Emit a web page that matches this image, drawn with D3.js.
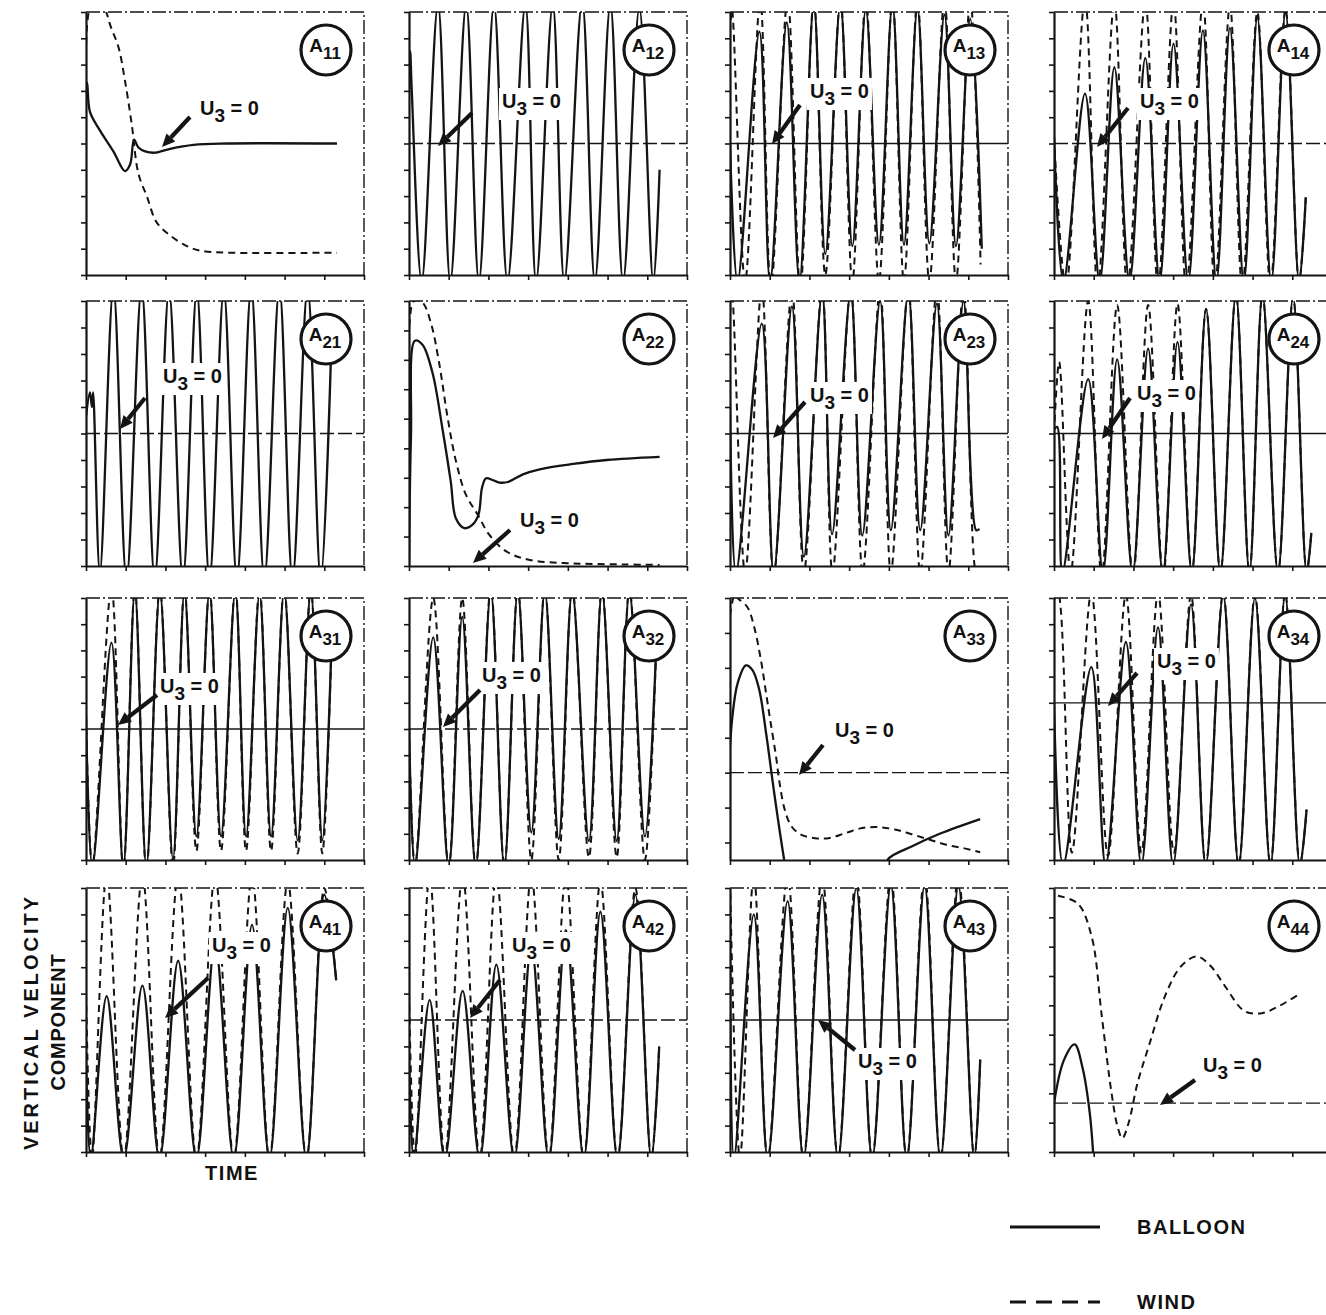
<!DOCTYPE html>
<html><head><meta charset="utf-8">
<script src="https://cdn.jsdelivr.net/npm/d3@7"></script>
<style>body{margin:0;background:#fff}svg{display:block}text{font-family:"Liberation Sans",Arial,sans-serif;font-weight:bold;fill:#111}</style>
</head><body>
<svg id="c" width="1326" height="1315"></svg>
<script>
// ---------------- DATA ----------------
const panelNames = ["A11","A12","A13","A14","A21","A22","A23","A24","A31","A32","A33","A34","A41","A42","A43","A44"];
const xTicks = [0,1,2,3,4,5,6,7];
const yTicksSym = [-1,-0.8,-0.6,-0.4,-0.2,0,0.2,0.4,0.6,0.8,1];
const yTicksA22 = [0,0.111,0.222,0.333,0.444,0.556,0.667,0.778,0.889,1];
const yTicksA33 = [-0.4,-0.2,0,0.2,0.4,0.6,0.8,1];
const yTicksA34 = [-1.5,-1.25,-1,-0.75,-0.5,-0.25,0,0.25,0.5,0.75,1];
const yTicksA44 = [-0.25,-0.1,0.05,0.2,0.35,0.5,0.65,0.8,0.95,1.1];
const legendLabels = ["BALLOON","WIND"];
const axisLabelY = ["VERTICAL VELOCITY","COMPONENT"];
const axisLabelX = "TIME";

// [time, vertical velocity] — balloon (solid) and wind (dashed)
const balloon_A11 = [[0,0.35],[0.03,0.46],[0.1,0.24],[0.35,0.10],[0.69,-0.06],[0.98,-0.21],[1.11,-0.16],[1.21,0.03],[1.32,-0.03],[1.49,-0.06],[1.74,-0.07],[2.12,-0.04],[2.71,-0.01],[3.55,0],[6.32,0]];
const wind_A11 = [[0,0.3],[0.12,1.05],[0.31,1.08],[0.48,1.02],[0.61,0.9],[0.82,0.73],[0.98,0.48],[1.15,0.15],[1.32,-0.23],[1.53,-0.4],[1.78,-0.6],[2.12,-0.7],[2.54,-0.78],[2.88,-0.815],[3.55,-0.83],[6.32,-0.83]];

const balloon_A12 = [[0,0.38],[0.03,0.7],[0.07,0.4],[0.32,-1.05],[0.73,1.06],[1.04,-1.05],[1.44,1.06],[1.76,-1.05],[2.14,1.06],[2.48,-1.05],[2.93,1.06],[3.2,-1.05],[3.62,1.06],[3.91,-1.05],[4.36,1.08],[4.68,-1.05],[5.07,1.06],[5.39,-1.05],[5.8,1.03],[6.15,-1.05],[6.31,-0.2]];
const wind_A12 = [];

const balloon_A13 = [[0,0],[0.19,-1.05],[0.74,0.85],[1.01,-1.05],[1.43,0.92],[1.75,-1.05],[2.11,1.06],[2.40,-0.84],[2.78,1.06],[3.08,-0.78],[3.42,1.02],[3.75,-0.77],[4.09,1.06],[4.38,-0.77],[4.72,1.03],[5.02,-0.76],[5.40,0.98],[5.69,-0.78],[6.05,0.95],[6.34,-0.8]];
const wind_A13 = [[0,0.85],[0.05,1.02],[0.38,-1.05],[0.76,1.1],[1.03,-1.1],[1.45,1.1],[1.77,-1.1],[2.11,1.1],[2.40,-1.0],[2.78,1.1],[3.08,-1.05],[3.42,1.1],[3.75,-1.05],[4.09,1.1],[4.38,-1.05],[4.72,1.1],[5.02,-1.05],[5.40,1.1],[5.69,-1.05],[6.05,1.1],[6.31,-0.92]];

const balloon_A14 = [[0,0.05],[0.24,-1.05],[0.78,0.38],[1.15,-1.05],[1.52,0.58],[1.9,-1.05],[2.30,0.65],[2.66,-1.05],[3.01,0.76],[3.38,-1.05],[3.75,0.86],[4.09,-1.05],[4.43,0.88],[4.78,-1.05],[5.12,0.96],[5.47,-1.05],[5.83,1.0],[6.17,-1.05],[6.34,-0.41]];
const wind_A14 = [[0,0.05],[0.3,-1.1],[0.78,1.1],[1.1,-1.1],[1.52,1.08],[1.85,-1.1],[2.30,1.08],[2.62,-1.1],[3.01,1.08],[3.33,-1.1],[3.75,1.08],[4.05,-1.1],[4.43,1.05],[4.74,-1.1],[5.12,1.0],[5.45,-1.08],[5.83,1.02],[6.17,-1.05],[6.34,-0.41]];

const balloon_A21 = [[0,0.13],[0.1,0.31],[0.15,0.2],[0.18,0.31],[0.35,-1.05],[0.69,1.1],[1.02,-1.1],[1.40,1.1],[1.73,-1.1],[2.09,1.08],[2.44,-1.1],[2.79,1.08],[3.11,-1.1],[3.47,1.08],[3.80,-1.1],[4.16,1.1],[4.49,-1.1],[4.87,1.1],[5.2,-1.1],[5.58,1.1],[5.91,-1.1],[6.19,0.8]];
const wind_A21 = [];

const balloon_A22 = [[0,0],[0.05,0.49],[0.15,0.85],[0.34,0.835],[0.59,0.73],[0.84,0.52],[1.05,0.32],[1.18,0.18],[1.39,0.143],[1.6,0.156],[1.75,0.194],[1.84,0.296],[1.94,0.331],[2.11,0.324],[2.28,0.315],[2.49,0.317],[2.87,0.346],[3.29,0.365],[4.13,0.385],[4.98,0.40],[6.31,0.412]];
const wind_A22 = [[0,0],[0.02,0.93],[0.13,1.0],[0.34,0.994],[0.55,0.918],[0.76,0.765],[0.97,0.562],[1.18,0.397],[1.43,0.27],[1.73,0.194],[2.02,0.118],[2.45,0.055],[3.04,0.023],[4.13,0.01],[5.4,0.006],[6.31,0.004]];

const balloon_A23 = [[0,0.2],[0.15,-1.05],[0.8,0.83],[1.1,-1.05],[1.56,0.96],[1.86,-0.93],[2.32,1.06],[2.57,-0.76],[3.04,1.06],[3.33,-0.77],[3.78,1.0],[4.05,-0.73],[4.49,1.06],[4.79,-0.73],[5.21,0.98],[5.5,-0.77],[5.88,1.0],[6.2,-0.73],[6.28,-0.72]];
const wind_A23 = [[0,0.9],[0.05,1.06],[0.38,-1.05],[0.8,1.1],[1.1,-1.08],[1.56,1.08],[1.86,-1.05],[2.32,1.1],[2.58,-1.05],[3.04,1.1],[3.34,-1.05],[3.78,1.1],[4.05,-1.05],[4.49,1.1],[4.79,-1.05],[5.21,1.1],[5.5,-1.05],[5.88,1.1],[6.2,-1.05],[6.3,-0.98]];

const balloon_A24 = [[0,0.03],[0.08,0.05],[0.21,-1.05],[0.86,0.41],[1.23,-1.05],[1.59,0.56],[1.98,-1.05],[2.37,0.64],[2.74,-1.05],[3.11,0.69],[3.47,-1.05],[3.83,0.94],[4.19,-1.05],[4.58,1.05],[4.92,-1.05],[5.25,1.05],[5.64,-1.05],[6.02,1.03],[6.36,-1.05],[6.48,-0.75]];
const wind_A24 = [[0,0],[0.13,0.54],[0.42,-1.05],[0.86,1.0],[1.2,-1.08],[1.59,0.97],[1.99,-1.08],[2.37,0.97],[2.75,-1.08],[3.11,0.98],[3.47,-1.05],[3.83,0.94],[4.19,-1.05],[4.58,1.05],[4.92,-1.05],[5.25,1.05],[5.64,-1.05],[6.02,1.03],[6.36,-1.05],[6.48,-0.75]];

const balloon_A31 = [[0,0.1],[0.16,-1.05],[0.64,0.66],[0.94,-1.05],[1.23,1.05],[1.52,-1.05],[1.86,1.05],[2.19,-0.99],[2.48,1.05],[2.78,-0.82],[3.11,1.05],[3.40,-0.82],[3.76,1.05],[4.03,-0.82],[4.37,1.03],[4.66,-0.82],[4.99,1.05],[5.33,-0.85],[5.66,1.05],[5.95,-0.85],[6.19,0.73]];
const wind_A31 = [[0,0.1],[0.16,-1.05],[0.64,1.08],[0.94,-1.08],[1.23,1.08],[1.52,-1.08],[1.86,1.08],[2.19,-1.05],[2.48,1.08],[2.78,-0.93],[3.11,1.08],[3.40,-0.93],[3.76,1.08],[4.03,-0.93],[4.37,1.08],[4.66,-0.93],[4.99,1.08],[5.33,-0.95],[5.66,1.08],[5.95,-0.95],[6.19,0.73]];

const balloon_A32 = [[0,0],[0.15,-1.05],[0.61,0.70],[1.0,-1.05],[1.34,0.855],[1.68,-1.05],[2.06,1.05],[2.40,-1.05],[2.74,1.05],[3.08,-0.79],[3.42,1.05],[3.77,-0.84],[4.11,1.05],[4.53,-0.855],[4.86,1.05],[5.23,-0.855],[5.55,1.05],[5.94,-0.82],[6.24,0.75]];
const wind_A32 = [[0,0],[0.15,-1.05],[0.61,1.0],[1.0,-1.05],[1.34,1.0],[1.68,-1.05],[2.06,1.08],[2.40,-1.05],[2.74,1.08],[3.08,-1.0],[3.42,1.08],[3.77,-1.0],[4.11,1.08],[4.53,-0.98],[4.86,1.08],[5.23,-0.98],[5.55,1.08],[5.94,-1.0],[6.24,0.75]];

const balloon_A33 = [[0,0.15],[0.06,0.32],[0.19,0.51],[0.40,0.614],[0.57,0.586],[0.74,0.471],[0.91,0.224],[1.08,-0.061],[1.21,-0.27],[1.38,-0.52],[1.45,-0.6],[3.9,-0.6],[3.97,-0.498],[4.6,-0.42],[5.28,-0.35],[6.30,-0.266]];
const wind_A33 = [[0,0.9],[0.12,1.02],[0.19,1.0],[0.44,0.947],[0.61,0.833],[0.78,0.643],[0.91,0.452],[1.04,0.262],[1.16,0.091],[1.25,-0.061],[1.38,-0.213],[1.55,-0.308],[1.8,-0.356],[2.14,-0.375],[2.48,-0.375],[2.91,-0.346],[3.33,-0.317],[3.76,-0.312],[4.18,-0.327],[4.61,-0.355],[5.03,-0.384],[5.45,-0.413],[5.88,-0.432],[6.30,-0.456]];

const balloon_A34 = [[0,0],[0.23,-1.55],[0.94,0.34],[1.3,-1.55],[1.81,0.58],[2.2,-1.55],[2.62,0.72],[3.0,-1.55],[3.45,0.94],[3.82,-1.55],[4.26,1.03],[4.65,-1.55],[5.06,1.0],[5.45,-1.55],[5.82,1.03],[6.19,-1.55],[6.36,-1.02]];
const wind_A34 = [[0,0.98],[0.1,1.05],[0.45,-1.43],[0.94,1.05],[1.36,-1.46],[1.81,1.03],[2.2,-1.43],[2.62,1.05],[3.02,-1.43],[3.45,1.03],[3.82,-1.55],[4.26,1.05],[4.65,-1.55],[5.06,1.03],[5.45,-1.55],[5.82,1.05],[6.19,-1.55],[6.36,-1.02]];

const balloon_A41 = [[0,-0.3],[0.12,-1.05],[0.52,0.18],[0.95,-1.05],[1.42,0.26],[1.85,-1.05],[2.32,0.45],[2.78,-1.05],[3.25,0.58],[3.72,-1.05],[4.18,0.72],[4.62,-1.05],[5.08,0.85],[5.55,-1.05],[6.0,0.95],[6.3,0.3]];
const wind_A41 = [[0,0.2],[0.15,-1.05],[0.52,1.1],[0.95,-1.05],[1.42,1.1],[1.85,-1.05],[2.32,1.1],[2.78,-1.05],[3.25,1.1],[3.72,-1.05],[4.18,1.1],[4.62,-1.05],[5.08,1.05],[5.55,-1.05],[6.0,1.0],[6.3,0.3]];

const balloon_A42 = [[0,-0.3],[0.12,-1.05],[0.52,0.15],[0.9,-1.05],[1.35,0.22],[1.78,-1.05],[2.2,0.42],[2.65,-1.05],[3.08,0.56],[3.52,-1.05],[3.95,0.68],[4.4,-1.05],[4.82,0.82],[5.25,-1.05],[5.7,0.95],[6.1,-1.05],[6.3,-0.2]];
const wind_A42 = [[0,0.2],[0.15,-1.05],[0.52,1.1],[0.9,-1.05],[1.35,1.1],[1.78,-1.05],[2.2,1.1],[2.65,-1.05],[3.08,1.1],[3.52,-1.05],[3.95,1.1],[4.4,-1.05],[4.82,1.05],[5.25,-1.05],[5.7,1.0],[6.1,-1.05],[6.3,-0.2]];

const balloon_A43 = [[0,0.8],[0.1,-1.05],[0.6,0.8],[0.95,-1.05],[1.45,0.9],[1.85,-1.05],[2.32,0.95],[2.72,-1.05],[3.18,1.0],[3.58,-1.05],[4.05,1.02],[4.45,-1.05],[4.9,1.02],[5.3,-1.05],[5.75,1.02],[6.15,-1.05],[6.3,-0.3]];
const wind_A43 = [[0,1.05],[0.25,-1.05],[0.6,1.1],[0.95,-1.05],[1.45,1.1],[1.85,-1.05],[2.32,1.1],[2.72,-1.05],[3.18,1.1],[3.58,-1.05],[4.05,1.1],[4.45,-1.05],[4.9,1.1],[5.3,-1.05],[5.75,1.1],[6.15,-1.05],[6.3,-0.3]];

const balloon_A44 = [[0,0],[0.25,0.22],[0.52,0.3],[0.72,0.18],[0.9,-0.05],[1.0,-0.3]];
const wind_A44 = [[0.1,1.06],[0.6,1.02],[0.95,0.85],[1.2,0.45],[1.45,0.05],[1.6,-0.12],[1.72,-0.18],[1.88,-0.1],[2.1,0.1],[2.4,0.3],[2.8,0.55],[3.2,0.7],[3.6,0.75],[3.95,0.7],[4.3,0.6],[4.8,0.47],[5.24,0.46],[5.7,0.5],[6.2,0.56]];

// ---------------- LAYOUT ----------------
const colX = [86, 409, 730, 1054];
const rowY = [12, 301, 598, 888];
const rowH = [263, 265, 262, 264];
const W = 278;
const balloonSeries = {A11:balloon_A11,A12:balloon_A12,A13:balloon_A13,A14:balloon_A14,A21:balloon_A21,A22:balloon_A22,A23:balloon_A23,A24:balloon_A24,A31:balloon_A31,A32:balloon_A32,A33:balloon_A33,A34:balloon_A34,A41:balloon_A41,A42:balloon_A42,A43:balloon_A43,A44:balloon_A44};
const windSeries = {A11:wind_A11,A12:wind_A12,A13:wind_A13,A14:wind_A14,A21:wind_A21,A22:wind_A22,A23:wind_A23,A24:wind_A24,A31:wind_A31,A32:wind_A32,A33:wind_A33,A34:wind_A34,A41:wind_A41,A42:wind_A42,A43:wind_A43,A44:wind_A44};
const yDom = {A22:[0,1], A33:[-0.5,1], A34:[-1.5,1], A44:[-0.25,1.1]};
const yTk = {A22:yTicksA22, A33:yTicksA33, A34:yTicksA34, A44:yTicksA44};
const zeroStyle = {A11:"none",A12:"dash",A13:"solid",A14:"dash",A21:"dash",A22:"none",A23:"solid",A24:"solid",A31:"solid",A32:"dash",A33:"dash",A34:"solid",A41:"none",A42:"dash",A43:"solid",A44:"dash"};
// annotation: text [x, baseline], arrow [x1,y1,x2,y2] relative to panel origin (px)
const annot = {
  A11:{t:[114,103],a:[104,105,76,135]}, A12:{t:[93,96],a:[63,101,29,134]},
  A13:{t:[80,86],a:[70,93,42,132]},     A14:{t:[86,96],a:[74,96,43,135]},
  A21:{t:[77,82],a:[59,97,34,128]},     A22:{t:[111,226],a:[101,229,64,262]},
  A23:{t:[80,101],a:[75,101,43,137]},   A24:{t:[83,99],a:[76,97,48,138]},
  A31:{t:[74,95],a:[71,97,32,127]},     A32:{t:[73,84],a:[71,92,34,129]},
  A33:{t:[105,139],a:[93,147,69,177]},  A34:{t:[103,70],a:[83,75,54,108]},
  A41:{t:[126,64],a:[122,90,79,130]},   A42:{t:[103,64],a:[91,92,61,130]},
  A43:{t:[128,180],a:[125,162,88,132]}, A44:{t:[149,184],a:[141,192,106,217]}
};

// ---------------- DRAW ----------------
const svg = d3.select("#c");
const defs = svg.append("defs");
const ink = "#141414";

panelNames.forEach((name, i) => {
  const r = Math.floor(i / 4), c = i % 4;
  const left = colX[c], top = rowY[r], H = rowH[r];
  const x = d3.scaleLinear().domain([0, 7]).range([0, W]);
  const y = d3.scaleLinear().domain(yDom[name] || [-1, 1]).range([H, 0]);
  const g = svg.append("g").attr("transform", `translate(${left},${top})`);
  defs.append("clipPath").attr("id", "clip" + i).append("rect").attr("x", 0).attr("y", 0).attr("width", W).attr("height", H);

  g.append("path").attr("d", `M0,0H${W}V${H}`).attr("fill", "none")
    .attr("stroke", ink).attr("stroke-width", 1.4).attr("stroke-dasharray", "14,3,2,3");

  const zs = zeroStyle[name];
  if (zs !== "none") {
    g.append("line").attr("x1", 0).attr("x2", W).attr("y1", y(0)).attr("y2", y(0))
      .attr("stroke", ink).attr("stroke-width", 1.3)
      .attr("stroke-dasharray", zs === "dash" ? "14,4" : null);
  }

  const line = d3.line().x(d => x(d[0])).y(d => y(d[1])).curve(d3.curveCatmullRom.alpha(0.5));
  const cg = g.append("g").attr("clip-path", `url(#clip${i})`);
  const wd = windSeries[name];
  if (wd.length) cg.append("path").attr("d", line(wd)).attr("fill", "none")
    .attr("stroke", ink).attr("stroke-width", 2).attr("stroke-dasharray", "7,5");
  cg.append("path").attr("d", line(balloonSeries[name])).attr("fill", "none")
    .attr("stroke", ink).attr("stroke-width", 2.3).attr("stroke-linejoin", "round");

  const ax = g.append("g").attr("transform", `translate(0,${H})`)
    .call(d3.axisBottom(x).tickValues(xTicks).tickSize(5).tickSizeOuter(0).tickFormat(""));
  const ay = g.append("g")
    .call(d3.axisLeft(y).tickValues(yTk[name] || yTicksSym).tickSize(5).tickSizeOuter(0).tickFormat(""));
  [ax, ay].forEach(a => {
    a.select(".domain").attr("stroke", ink).attr("stroke-width", 2.2);
    a.selectAll(".tick line").attr("stroke", ink).attr("stroke-width", 1.6);
  });

  // U3 = 0 annotation
  const an = annot[name];
  const tg = g.append("g");
  const txt = tg.append("text").attr("x", an.t[0]).attr("y", an.t[1]).attr("font-size", 20);
  txt.append("tspan").text("U");
  txt.append("tspan").attr("dy", 7).attr("font-size", 19).text("3");
  txt.append("tspan").attr("dy", -7).text(" = 0");
  const bb = txt.node().getBBox();
  tg.insert("rect", "text").attr("x", bb.x - 3).attr("y", bb.y - 2).attr("width", bb.width + 6).attr("height", bb.height + 3).attr("fill", "#fff");
  const [x1, y1, x2, y2] = an.a;
  const ang = Math.atan2(y2 - y1, x2 - x1), hl = 13, hw = 6;
  const bx = x2 - hl * Math.cos(ang), by = y2 - hl * Math.sin(ang);
  g.append("line").attr("x1", x1).attr("y1", y1).attr("x2", bx).attr("y2", by)
    .attr("stroke", ink).attr("stroke-width", 4.2);
  g.append("polygon").attr("fill", ink).attr("points", [
    [x2, y2],
    [bx + hw * Math.sin(ang), by - hw * Math.cos(ang)],
    [bx - hw * Math.sin(ang), by + hw * Math.cos(ang)]
  ].map(p => p.join(",")).join(" "));

  // circled label
  const lg = g.append("g").attr("transform", `translate(${240},${38})`);
  lg.append("circle").attr("r", 25).attr("fill", "#fff").attr("stroke", ink).attr("stroke-width", 3.2);
  const lt = lg.append("text").attr("text-anchor", "middle").attr("x", -1).attr("y", 2).attr("font-size", 19);
  lt.append("tspan").text(name[0]);
  lt.append("tspan").attr("dy", 7).attr("font-size", 17).text(name.slice(1));
});

// Axis titles
svg.append("text").attr("transform", "translate(38,1022) rotate(-90)").attr("text-anchor", "middle")
  .attr("font-size", 20).attr("letter-spacing", 3).text(axisLabelY[0]);
svg.append("text").attr("transform", "translate(65,1022) rotate(-90)").attr("text-anchor", "middle")
  .attr("font-size", 20).attr("letter-spacing", 0.8).text(axisLabelY[1]);
svg.append("text").attr("x", 232).attr("y", 1180).attr("text-anchor", "middle").attr("font-size", 20)
  .attr("letter-spacing", 1.5).text(axisLabelX);

// Legend
svg.append("line").attr("x1", 1010).attr("x2", 1100).attr("y1", 1227).attr("y2", 1227)
  .attr("stroke", ink).attr("stroke-width", 3);
svg.append("text").attr("x", 1137).attr("y", 1234).attr("font-size", 20).attr("letter-spacing", 1.5).text(legendLabels[0]);
svg.append("line").attr("x1", 1010).attr("x2", 1100).attr("y1", 1302).attr("y2", 1302)
  .attr("stroke", ink).attr("stroke-width", 3).attr("stroke-dasharray", "16,10");
svg.append("text").attr("x", 1137).attr("y", 1309).attr("font-size", 20).attr("letter-spacing", 1.5).text(legendLabels[1]);
</script>
</body></html>
